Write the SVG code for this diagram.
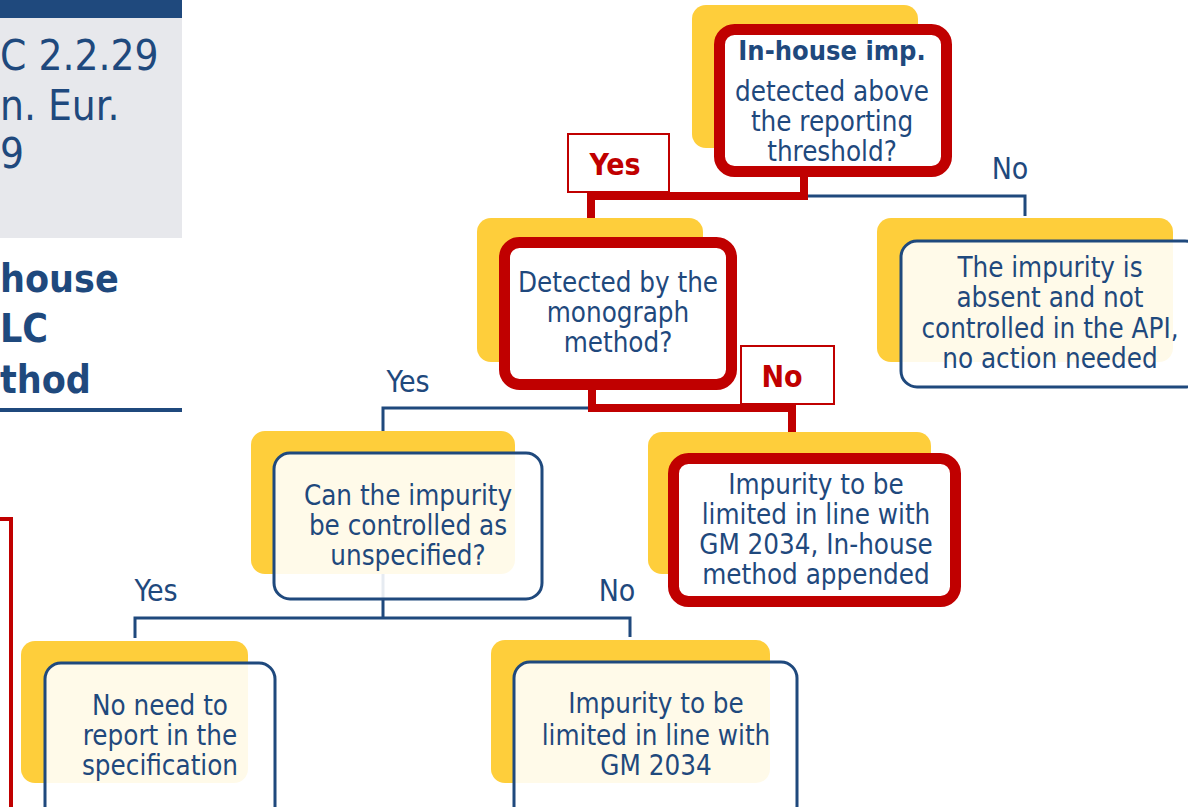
<svg xmlns="http://www.w3.org/2000/svg" width="1188" height="807" viewBox="0 0 1188 807">
  <style>
    .t { font-family: 'DejaVu Sans Condensed', 'DejaVu Sans', sans-serif; font-stretch: condensed; fill: #1F497D; font-size: 27.5px; text-anchor: middle; }
    .b { font-weight: bold; font-size: 27px; }
    .lbl { font-size: 30px; }
    .rl { fill: #C00000; font-weight: bold; font-size: 30px; }
    .shadow { fill: #FECE3B; }
    .box { fill: #FFFFFF; fill-opacity: 0.89; stroke: #1F497D; stroke-width: 3; }
    .rbox { fill: #FFFFFF; stroke: #C00000; stroke-width: 11; }
    .tag { fill: #FFFFFF; stroke: #C00000; stroke-width: 2; }
    .cb { fill: none; stroke: #1F497D; stroke-width: 3; }
    .cr { fill: none; stroke: #C00000; stroke-width: 8; }
    .hd { font-family: 'DejaVu Sans Condensed', 'DejaVu Sans', sans-serif; font-stretch: condensed; fill: #1F497D; }
  </style>

  <!-- header panel on the left -->
  <g id="header">
    <rect x="0" y="0" width="182" height="18" fill="#1F497D"/>
    <rect x="0" y="18" width="182" height="220" fill="#E7E8EC"/>
    <text class="hd" x="0" y="70" font-size="42">C 2.2.29</text>
    <text class="hd" x="0" y="120" font-size="42">n. Eur.</text>
    <text class="hd" x="0" y="168" font-size="42">9</text>
    <text class="hd" x="0" y="292" font-size="39" font-weight="bold">house</text>
    <text class="hd" x="0" y="342" font-size="39" font-weight="bold">LC</text>
    <text class="hd" x="0" y="393" font-size="39" font-weight="bold">thod</text>
    <rect x="0" y="408" width="182" height="4" fill="#1F497D"/>
    <path d="M0 519 H11 V807" fill="none" stroke="#C00000" stroke-width="4"/>
  </g>

  <!-- connectors -->
  <g id="connectors">
    <path class="cb" d="M804 196 H1025 V216"/>
    <path class="cb" d="M592 408 H383 V618"/>
    <path class="cb" d="M135 638 V618 H630 V637"/>
    <path class="cr" d="M804 176 V196 H591 V222"/>
    <path class="cr" d="M592 386 V408 H792 V436"/>
  </g>

  <!-- branch tags -->
  <g id="tag-yes-top">
    <rect class="tag" x="568" y="134" width="101" height="58"/>
    <text class="t rl" x="615" y="175">Yes</text>
  </g>
  <g id="tag-no-mid">
    <rect class="tag" x="741" y="346" width="93" height="58"/>
    <text class="t rl" x="782" y="387">No</text>
  </g>
  <g id="labels">
    <text class="t lbl" x="1010" y="179">No</text>
    <text class="t lbl" x="408" y="392">Yes</text>
    <text class="t lbl" x="156" y="601">Yes</text>
    <text class="t lbl" x="617" y="601">No</text>
  </g>

  <!-- decision: in-house impurity -->
  <g id="n-inhouse">
    <rect class="shadow" x="692" y="5" width="226" height="143" rx="14"/>
    <rect class="rbox" x="719.5" y="29.5" width="227" height="142" rx="15"/>
    <text class="t b" x="832" y="60">In-house imp.</text>
    <text class="t" x="832" y="101">detected above</text>
    <text class="t" x="832" y="131">the reporting</text>
    <text class="t" x="832" y="161">threshold?</text>
  </g>

  <!-- decision: monograph method -->
  <g id="n-monograph">
    <rect class="shadow" x="477" y="218" width="226" height="144" rx="14"/>
    <rect class="rbox" x="504.5" y="242.5" width="227" height="142" rx="15"/>
    <text class="t" x="618" y="292">Detected by the</text>
    <text class="t" x="618" y="322">monograph</text>
    <text class="t" x="618" y="352">method?</text>
  </g>

  <!-- outcome: absent -->
  <g id="n-absent">
    <rect class="shadow" x="877" y="218" width="296" height="144" rx="14"/>
    <rect class="box" x="901" y="241" width="300" height="146" rx="16"/>
    <text class="t" x="1050" y="277">The impurity is</text>
    <text class="t" x="1050" y="307">absent and not</text>
    <text class="t" x="1050" y="338">controlled in the API,</text>
    <text class="t" x="1050" y="368">no action needed</text>
  </g>

  <!-- decision: unspecified -->
  <g id="n-unspecified">
    <rect class="shadow" x="251" y="431" width="264" height="143" rx="14"/>
    <rect class="box" x="274" y="453" width="268" height="146" rx="16"/>
    <text class="t" x="408" y="505">Can the impurity</text>
    <text class="t" x="408" y="535">be controlled as</text>
    <text class="t" x="408" y="565">unspecified?</text>
  </g>

  <!-- outcome: limit with appended method -->
  <g id="n-appended">
    <rect class="shadow" x="648" y="432" width="283" height="142" rx="14"/>
    <rect class="rbox" x="673.5" y="458.5" width="282" height="143" rx="15"/>
    <text class="t" x="816" y="494">Impurity to be</text>
    <text class="t" x="816" y="524">limited in line with</text>
    <text class="t" x="816" y="554">GM 2034, In-house</text>
    <text class="t" x="816" y="584">method appended</text>
  </g>

  <!-- outcome: no report -->
  <g id="n-noreport">
    <rect class="shadow" x="21" y="641" width="227" height="142" rx="14"/>
    <rect class="box" x="45" y="663" width="230" height="160" rx="16"/>
    <text class="t" x="160" y="715">No need to</text>
    <text class="t" x="160" y="745">report in the</text>
    <text class="t" x="160" y="775">specification</text>
  </g>

  <!-- outcome: limit -->
  <g id="n-limit">
    <rect class="shadow" x="491" y="640" width="279" height="143" rx="14"/>
    <rect class="box" x="514" y="662" width="283" height="160" rx="16"/>
    <text class="t" x="656" y="713">Impurity to be</text>
    <text class="t" x="656" y="745">limited in line with</text>
    <text class="t" x="656" y="775">GM 2034</text>
  </g>
</svg>
